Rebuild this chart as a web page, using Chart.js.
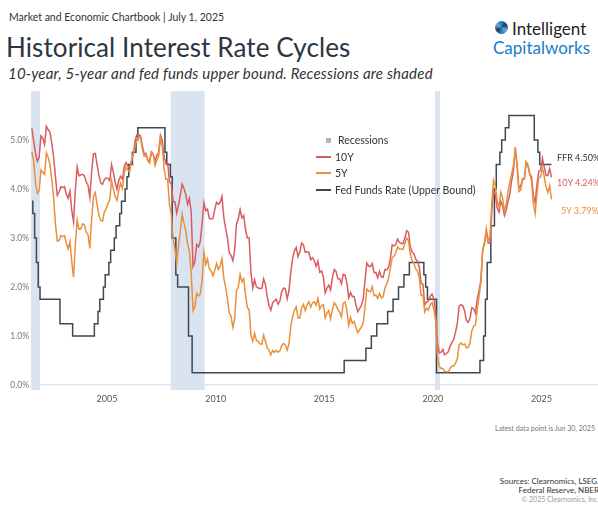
<!DOCTYPE html>
<html>
<head>
<meta charset="utf-8">
<title>Historical Interest Rate Cycles</title>
<script src="https://cdn.jsdelivr.net/npm/chart.js@4.4.1/dist/chart.umd.min.js"></script>
<style>
    html, body { margin: 0; padding: 0; background: #fff; }
    body { width: 598px; height: 506px; position: relative; overflow: hidden; font-family: Lato, "Open Sans", sans-serif; }
    .abs { position: absolute; white-space: nowrap; }
    #header { left: 9px; top: 11px; font-size: 10.5px; color: #333; }
    #title { left: 6px; top: 31px; font-size: 26px; color: #2d3640; letter-spacing: 0.1px; }
    #subtitle { left: 8px; top: 64px; font-size: 15px; font-style: italic; color: #333; letter-spacing: 0.2px; }
    #logo1 { left: 512px; top: 18px; font-size: 17px; color: #222; }
    #logo2 { left: 493px; top: 37px; font-size: 17px; color: #1b7dc4; }
    #logoIcon { left: 495px; top: 21px; width: 13px; height: 13px; border-radius: 50%;
        background: conic-gradient(#1b7dc4, #2d3a55, #6aa9dc, #1b7dc4, #2d3a55, #6aa9dc, #1b7dc4); }
    #chartBox { left: 0; top: 84px; width: 598px; height: 330px; }
    #legend { left: 316px; top: 132px; font-size: 10.5px; color: #333; line-height: 16.5px; }
    #legend .item { display: flex; align-items: center; }
    #legend .mark { width: 15px; height: 2px; margin-right: 4px; }
    #legend .sq { width: 5px; height: 5px; margin: 0 7px 0 10px; }
    .endLabel { font-size: 9px; }
    #latest { right: 3px; top: 424px; font-size: 7px; color: #777; }
    #sources { right: -1px; top: 477px; font-size: 8px; color: #333; text-align: right; line-height: 9px; }
    #sources .faint { color: #999; font-size: 7px; }
</style>
</head>
<body>
<div id="header" class="abs">Market and Economic Chartbook | July 1, 2025</div>
<div id="title" class="abs">Historical Interest Rate Cycles</div>
<div id="subtitle" class="abs">10-year, 5-year and fed funds upper bound. Recessions are shaded</div>
<div id="logoIcon" class="abs"></div>
<div id="logo1" class="abs">Intelligent</div>
<div id="logo2" class="abs">Capitalworks</div>
<div id="chartBox" class="abs"><canvas id="rateChart"></canvas></div>
<div id="legend" class="abs"></div>
<div id="endLabels"></div>
<div id="latest" class="abs">Latest data point is Jun 30, 2025</div>
<div id="sources" class="abs">Sources: Clearnomics, LSEG,<br>Federal Reserve, NBER<br><span class="faint">© 2025 Clearnomics, Inc.</span></div>

<script>
// Monthly series, Jul 2001 .. Jun 2025 (percent)
const startYear = 2001;
const startMonth = 7;

const tenYear = [
    5.24, 4.97, 4.73, 4.57, 4.65, 5.09,
    5.04, 4.91, 5.28, 5.21, 5.16, 4.93, 4.65, 4.26, 3.87, 3.94, 4.05, 4.03,
    4.05, 3.90, 3.81, 3.96, 3.57, 3.33, 3.98, 4.45, 4.27, 4.29, 4.30, 4.27,
    4.15, 4.08, 3.83, 4.35, 4.72, 4.73, 4.50, 4.28, 4.13, 4.10, 4.19, 4.23,
    4.22, 4.17, 4.50, 4.34, 4.14, 4.00, 4.18, 4.26, 4.20, 4.46, 4.54, 4.47,
    4.42, 4.57, 4.72, 4.99, 5.11, 5.11, 5.09, 4.88, 4.72, 4.73, 4.60, 4.56,
    4.76, 4.72, 4.56, 4.69, 4.75, 5.10, 5.00, 4.67, 4.52, 4.53, 4.15, 4.10,
    3.74, 3.74, 3.51, 3.68, 3.88, 4.10, 4.01, 3.89, 3.69, 3.81, 3.53, 2.42,
    2.52, 2.87, 2.82, 2.93, 3.29, 3.72, 3.56, 3.59, 3.40, 3.39, 3.40, 3.59,
    3.73, 3.69, 3.73, 3.85, 3.42, 3.20, 3.01, 2.70, 2.65, 2.54, 2.76, 3.29,
    3.39, 3.58, 3.41, 3.46, 3.17, 3.00, 3.00, 2.30, 1.98, 2.15, 2.01, 1.98,
    1.97, 1.97, 2.17, 2.05, 1.80, 1.62, 1.53, 1.68, 1.72, 1.75, 1.65, 1.72,
    1.91, 1.98, 1.96, 1.76, 1.93, 2.30, 2.58, 2.74, 2.81, 2.62, 2.72, 2.90,
    2.86, 2.71, 2.72, 2.71, 2.56, 2.60, 2.54, 2.42, 2.53, 2.30, 2.33, 2.21,
    1.88, 1.98, 2.04, 1.94, 2.20, 2.36, 2.32, 2.17, 2.17, 2.07, 2.26, 2.24,
    2.09, 1.78, 1.89, 1.81, 1.81, 1.64, 1.50, 1.56, 1.63, 1.76, 2.14, 2.49,
    2.43, 2.42, 2.48, 2.30, 2.30, 2.19, 2.32, 2.21, 2.20, 2.36, 2.35, 2.40,
    2.58, 2.86, 2.84, 2.87, 2.98, 2.91, 2.89, 2.89, 3.00, 3.15, 3.12, 2.83,
    2.71, 2.68, 2.57, 2.53, 2.40, 2.07, 2.06, 1.63, 1.70, 1.71, 1.81, 1.86,
    1.76, 1.50, 0.87, 0.66, 0.67, 0.73, 0.62, 0.65, 0.68, 0.79, 0.87, 0.93,
    1.08, 1.26, 1.61, 1.64, 1.62, 1.52, 1.32, 1.28, 1.37, 1.58, 1.56, 1.47,
    1.76, 1.93, 2.13, 2.75, 2.90, 3.14, 2.90, 2.90, 3.52, 3.98, 3.89, 3.62,
    3.53, 3.75, 3.66, 3.46, 3.57, 3.75, 3.90, 4.17, 4.38, 4.85, 4.50, 4.02,
    4.06, 4.21, 4.21, 4.54, 4.48, 4.31, 4.25, 3.87, 3.72, 4.10, 4.36, 4.39,
    4.63, 4.45, 4.28, 4.28, 4.42, 4.24
];

const fiveYear = [
    4.76, 4.57, 4.12, 3.91, 3.97, 4.39,
    4.34, 4.30, 4.74, 4.65, 4.49, 4.19, 3.81, 3.29, 2.94, 2.95, 3.05, 3.03,
    3.05, 2.90, 2.78, 2.93, 2.52, 2.20, 2.87, 3.37, 3.18, 3.19, 3.29, 3.27,
    3.12, 3.07, 2.79, 3.39, 3.85, 3.93, 3.69, 3.47, 3.36, 3.35, 3.53, 3.60,
    3.71, 3.77, 4.17, 4.00, 3.85, 3.77, 3.98, 4.12, 4.01, 4.33, 4.45, 4.39,
    4.35, 4.57, 4.72, 4.90, 5.00, 5.07, 5.04, 4.82, 4.67, 4.69, 4.58, 4.53,
    4.75, 4.71, 4.48, 4.59, 4.67, 5.03, 4.88, 4.43, 4.20, 4.20, 3.67, 3.49,
    2.98, 2.78, 2.48, 2.84, 3.15, 3.49, 3.30, 3.14, 2.88, 2.73, 2.29, 1.52,
    1.60, 1.87, 1.82, 1.86, 2.13, 2.71, 2.46, 2.57, 2.37, 2.33, 2.23, 2.34,
    2.48, 2.36, 2.43, 2.58, 2.18, 2.00, 1.76, 1.47, 1.41, 1.18, 1.35, 1.93,
    1.99, 2.26, 2.11, 2.17, 1.84, 1.58, 1.54, 1.02, 0.90, 1.06, 0.91, 0.89,
    0.84, 0.83, 1.02, 0.89, 0.76, 0.71, 0.62, 0.71, 0.67, 0.71, 0.67, 0.70,
    0.81, 0.85, 0.82, 0.71, 0.84, 1.20, 1.40, 1.52, 1.60, 1.37, 1.37, 1.58,
    1.65, 1.52, 1.64, 1.70, 1.59, 1.68, 1.70, 1.63, 1.77, 1.55, 1.62, 1.64,
    1.37, 1.47, 1.52, 1.35, 1.54, 1.68, 1.63, 1.54, 1.49, 1.39, 1.67, 1.70,
    1.52, 1.22, 1.38, 1.26, 1.30, 1.17, 1.07, 1.13, 1.18, 1.27, 1.60, 1.96,
    1.92, 1.90, 2.01, 1.82, 1.84, 1.77, 1.87, 1.78, 1.80, 1.98, 2.06, 2.18,
    2.38, 2.60, 2.63, 2.70, 2.82, 2.78, 2.78, 2.77, 2.89, 3.00, 2.95, 2.68,
    2.54, 2.49, 2.37, 2.33, 2.19, 1.83, 1.83, 1.49, 1.57, 1.53, 1.64, 1.68,
    1.56, 1.32, 0.59, 0.39, 0.34, 0.34, 0.28, 0.27, 0.27, 0.34, 0.39, 0.39,
    0.45, 0.54, 0.82, 0.86, 0.82, 0.84, 0.76, 0.77, 0.86, 1.11, 1.20, 1.23,
    1.54, 1.81, 2.11, 2.78, 2.87, 3.19, 2.96, 3.03, 3.70, 4.18, 4.06, 3.76,
    3.64, 3.94, 3.82, 3.54, 3.69, 3.95, 4.14, 4.31, 4.49, 4.77, 4.49, 3.95,
    3.98, 4.19, 4.20, 4.56, 4.50, 4.32, 4.16, 3.71, 3.50, 3.91, 4.23, 4.25,
    4.43, 4.26, 4.04, 3.93, 4.07, 3.79
];

const fedFunds = [
    3.75, 3.50, 3.00, 2.50, 2.00, 1.75,
    1.75, 1.75, 1.75, 1.75, 1.75, 1.75, 1.75, 1.75, 1.75, 1.75, 1.25, 1.25,
    1.25, 1.25, 1.25, 1.25, 1.25, 1.00, 1.00, 1.00, 1.00, 1.00, 1.00, 1.00,
    1.00, 1.00, 1.00, 1.00, 1.00, 1.25, 1.25, 1.50, 1.75, 1.75, 2.00, 2.25,
    2.25, 2.50, 2.75, 2.75, 3.00, 3.25, 3.25, 3.50, 3.75, 3.75, 4.00, 4.25,
    4.50, 4.50, 4.75, 4.75, 5.00, 5.25, 5.25, 5.25, 5.25, 5.25, 5.25, 5.25,
    5.25, 5.25, 5.25, 5.25, 5.25, 5.25, 5.25, 5.25, 4.75, 4.50, 4.50, 4.25,
    3.00, 3.00, 2.25, 2.00, 2.00, 2.00, 2.00, 2.00, 2.00, 1.00, 1.00, 0.25,
    0.25, 0.25, 0.25, 0.25, 0.25, 0.25, 0.25, 0.25, 0.25, 0.25, 0.25, 0.25,
    0.25, 0.25, 0.25, 0.25, 0.25, 0.25, 0.25, 0.25, 0.25, 0.25, 0.25, 0.25,
    0.25, 0.25, 0.25, 0.25, 0.25, 0.25, 0.25, 0.25, 0.25, 0.25, 0.25, 0.25,
    0.25, 0.25, 0.25, 0.25, 0.25, 0.25, 0.25, 0.25, 0.25, 0.25, 0.25, 0.25,
    0.25, 0.25, 0.25, 0.25, 0.25, 0.25, 0.25, 0.25, 0.25, 0.25, 0.25, 0.25,
    0.25, 0.25, 0.25, 0.25, 0.25, 0.25, 0.25, 0.25, 0.25, 0.25, 0.25, 0.25,
    0.25, 0.25, 0.25, 0.25, 0.25, 0.25, 0.25, 0.25, 0.25, 0.25, 0.25, 0.50,
    0.50, 0.50, 0.50, 0.50, 0.50, 0.50, 0.50, 0.50, 0.50, 0.50, 0.50, 0.75,
    0.75, 0.75, 1.00, 1.00, 1.00, 1.25, 1.25, 1.25, 1.25, 1.25, 1.25, 1.50,
    1.50, 1.50, 1.75, 1.75, 1.75, 2.00, 2.00, 2.00, 2.25, 2.25, 2.25, 2.50,
    2.50, 2.50, 2.50, 2.50, 2.50, 2.50, 2.50, 2.25, 2.00, 1.75, 1.75, 1.75,
    1.75, 1.75, 0.25, 0.25, 0.25, 0.25, 0.25, 0.25, 0.25, 0.25, 0.25, 0.25,
    0.25, 0.25, 0.25, 0.25, 0.25, 0.25, 0.25, 0.25, 0.25, 0.25, 0.25, 0.25,
    0.25, 0.25, 0.50, 0.50, 1.00, 1.75, 2.50, 2.50, 3.25, 3.25, 4.00, 4.50,
    4.50, 4.75, 5.00, 5.00, 5.25, 5.25, 5.50, 5.50, 5.50, 5.50, 5.50, 5.50,
    5.50, 5.50, 5.50, 5.50, 5.50, 5.50, 5.50, 5.50, 5.00, 5.00, 4.75, 4.50,
    4.50, 4.50, 4.50, 4.50, 4.50, 4.50
];

// NBER recessions (decimal years)
const recessionStarts = [2001.17, 2007.92, 2020.08];
const recessionEnds = [2001.92, 2009.50, 2020.33];

const yearTicks = [2005, 2010, 2015, 2020, 2025];
const rateTicks = [0, 1, 2, 3, 4, 5];

const seriesNames = ['10Y', '5Y', 'Fed Funds Rate (Upper Bound)'];
const endNames = ['10Y', '5Y', 'FFR'];

const colors = {
    tenYear: '#d95c60',
    fiveYear: '#e8913a',
    fedFunds: '#3e4753',
    recession: '#dae4f0',
    legendSquare: '#a7b6c7'
};

function toPoints(values) {
    return values.map((v, i) => ({ x: startYear + (startMonth - 1 + i + 0.5) / 12, y: v }));
}

function recessionDatasets() {
    return recessionStarts.map((s, i) => ({
        label: 'Recessions',
        data: [{ x: s, y: 6 }, { x: recessionEnds[i], y: 6 }],
        borderWidth: 0,
        pointRadius: 0,
        backgroundColor: colors.recession,
        fill: 'start'
    }));
}

function initRateChart() {
    const lines = [
        { label: seriesNames[1], data: toPoints(fiveYear), borderColor: colors.fiveYear },
        { label: seriesNames[0], data: toPoints(tenYear), borderColor: colors.tenYear },
        { label: seriesNames[2], data: toPoints(fedFunds), borderColor: colors.fedFunds, stepped: 'middle' }
    ].map(d => Object.assign(d, { borderWidth: 1.5, pointRadius: 0, fill: false, tension: 0 }));

    new Chart(document.getElementById('rateChart'), {
        type: 'line',
        data: { datasets: lines.concat(recessionDatasets()) },
        options: {
            responsive: true,
            maintainAspectRatio: false,
            animation: false,
            layout: { padding: { top: 4, left: 0, right: 0, bottom: 0 } },
            plugins: {
                legend: { display: false },
                tooltip: { enabled: false }
            },
            scales: {
                x: {
                    type: 'linear',
                    min: 2001.5,
                    max: 2027.6,
                    grid: { display: false, drawTicks: false },
                    border: { display: false },
                    afterBuildTicks: s => { s.ticks = yearTicks.map(v => ({ value: v })); },
                    afterFit: s => { s.height = 24; },
                    ticks: {
                        padding: 4,
                        color: '#555',
                        font: { family: 'Lato', size: 9 },
                        maxRotation: 0,
                        callback: v => String(v)
                    }
                },
                y: {
                    min: -0.1,
                    max: 6,
                    grid: {
                        drawTicks: false,
                        color: ctx => ctx.tick && ctx.tick.value === 0 ? '#e2e5e9' : 'transparent',
                        lineWidth: 1.5
                    },
                    border: { display: false },
                    afterBuildTicks: s => { s.ticks = rateTicks.map(v => ({ value: v })); },
                    afterFit: s => { s.width = 31; },
                    ticks: {
                        padding: 2,
                        color: '#777',
                        font: { family: 'Lato', size: 8.5 },
                        callback: v => v.toFixed(1) + '%'
                    }
                }
            }
        }
    });
}

// Legend drawn inside the plot, top middle
function initLegend() {
    const box = document.getElementById('legend');
    const rows = [
        { name: 'Recessions', square: colors.legendSquare },
        { name: seriesNames[0], color: colors.tenYear },
        { name: seriesNames[1], color: colors.fiveYear },
        { name: seriesNames[2], color: colors.fedFunds }
    ];
    rows.forEach(r => {
        const item = document.createElement('div');
        item.className = 'item';
        item.innerHTML = r.square
            ? `<span class="sq" style="background:${r.square}"></span>${r.name}`
            : `<span class="mark" style="background:${r.color}"></span>${r.name}`;
        box.appendChild(item);
    });
}

// Last-value labels on the right
function initEndLabels() {
    const holder = document.getElementById('endLabels');
    const labels = [
        { text: endNames[2] + ' ' + fedFunds[fedFunds.length - 1].toFixed(2) + '%', color: '#333', left: 557, top: 152 },
        { text: endNames[0] + ' ' + tenYear[tenYear.length - 1].toFixed(2) + '%', color: colors.tenYear, left: 557, top: 177 },
        { text: endNames[1] + ' ' + fiveYear[fiveYear.length - 1].toFixed(2) + '%', color: colors.fiveYear, left: 561, top: 205 }
    ];
    labels.forEach(l => {
        const el = document.createElement('div');
        el.className = 'abs endLabel';
        el.style.left = l.left + 'px';
        el.style.top = l.top + 'px';
        el.style.color = l.color;
        el.textContent = l.text;
        holder.appendChild(el);
    });
}

document.addEventListener('DOMContentLoaded', () => {
    initRateChart();
    initLegend();
    initEndLabels();
});
</script>
</body>
</html>
